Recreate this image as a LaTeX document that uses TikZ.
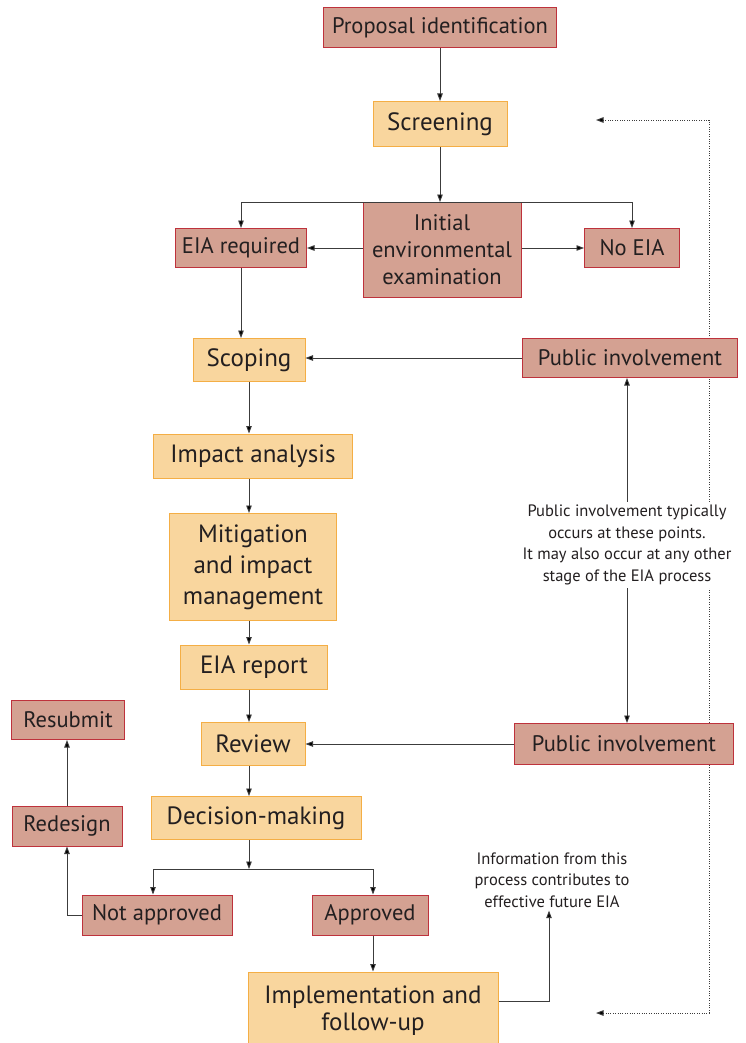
\documentclass[tikz,border=0pt]{standalone}
\usepackage{fontspec}
\setmainfont{PT Sans}
\usetikzlibrary{arrows.meta}
\definecolor{redfill}{RGB}{212,161,146}
\definecolor{redline}{RGB}{190,50,60}
\definecolor{orfill}{RGB}{249,214,158}
\definecolor{orline}{RGB}{244,174,69}
\definecolor{conn}{RGB}{60,60,60}
\definecolor{txt}{RGB}{35,31,32}
\begin{document}
\begin{tikzpicture}[x=1pt,y=-1pt,
  base/.style={line width=1pt,inner sep=0pt,align=center,text=txt},
  redbox/.style={base,draw=redline,fill=redfill,font=\fontsize{22.5}{27}\selectfont},
  orbox/.style={base,draw=orline,fill=orfill,font=\fontsize{25}{27}\selectfont},
  arr/.style={draw=conn,line width=0.9pt,-{Triangle[length=7.5pt,width=5.5pt,fill=black]}},
  note/.style={font=\fontsize{16.5}{21.5}\selectfont,align=center,text=txt,fill=white,inner sep=3pt},
  dots/.style={draw=conn,line width=0.9pt,dash pattern=on 1pt off 1.4pt,
    {Triangle[length=7.5pt,width=5.5pt,fill=black]}-{Triangle[length=7.5pt,width=5.5pt,fill=black]}}]
\useasboundingbox (0,0) rectangle (746,1043);
% dotted feedback loop (behind the boxes)
\coordinate (dbot) at (596,1013);
\coordinate (dtop) at (596,120);
\draw[dots] (dbot) -- (709,1013) -- (709,120) -- (dtop);
% nodes
\node[redbox,minimum width=233pt,minimum height=40pt] (prop) at (440,28) {Proposal identification};
\node[orbox,minimum width=134pt,minimum height=45pt] (screen) at (440,124) {Screening};
\node[redbox,minimum width=158pt,minimum height=95pt] (iee) at (442,250) {Initial\\environmental\\examination};
\node[redbox,minimum width=131pt,minimum height=39pt] (eiareq) at (241,248) {EIA required};
\node[redbox,minimum width=95pt,minimum height=39pt] (noeia) at (632,248) {No EIA};
\node[orbox,minimum width=112pt,minimum height=43pt] (scoping) at (249,360) {Scoping};
\node[redbox,minimum width=215pt,minimum height=39pt] (pi1) at (630,358) {Public involvement};
\node[orbox,minimum width=199pt,minimum height=44pt] (impact) at (253,456) {Impact analysis};
\node[orbox,minimum width=167pt,minimum height=107pt,font=\fontsize{25}{31}\selectfont] (mitig) at (253,567) {Mitigation\\and impact\\management};
\node[orbox,minimum width=147pt,minimum height=44pt] (report) at (254,667) {EIA report};
\node[orbox,minimum width=104pt,minimum height=43pt] (review) at (253,744) {Review};
\node[redbox,minimum width=219pt,minimum height=41pt] (pi2) at (624,744) {Public involvement};
\node[redbox,minimum width=113pt,minimum height=39pt] (resub) at (68,720) {Resubmit};
\node[redbox,minimum width=110pt,minimum height=40pt] (redes) at (67,826) {Redesign};
\node[orbox,minimum width=210pt,minimum height=43pt] (decis) at (256,818) {Decision-making};
\node[redbox,minimum width=150pt,minimum height=40pt] (notapp) at (157,915) {Not approved};
\node[redbox,minimum width=116pt,minimum height=40pt] (appr) at (370,915) {Approved};
\node[orbox,minimum width=250pt,minimum height=78pt] (impl) at (373,1011) {Implementation and\\follow-up};
\node[note] (pinote) at (627,545) {Public involvement typically\\occurs at these points.\\It may also occur at any other\\stage of the EIA process};
\node[note] (info) at (552,880) {Information from this\\process contributes to\\effective future EIA};
% connectors
\draw[arr] (prop.south) -- (screen.north);
\draw[arr] (screen.south) -- (screen.south |- iee.north);
\draw[arr] (iee.north) -| (eiareq.north);
\draw[arr] (iee.north) -| (noeia.north);
\draw[arr] (iee.west |- eiareq.east) -- (eiareq.east);
\draw[arr] (iee.east |- noeia.west) -- (noeia.west);
\draw[arr] (eiareq.south) -- (eiareq.south |- scoping.north);
\draw[arr] (pi1.west) -- (pi1.west -| scoping.east);
\draw[arr] ([xshift=-4pt]impact.north |- scoping.south) -- ([xshift=-4pt]impact.north);
\draw[arr] ([xshift=-4pt]impact.south) -- ([xshift=-4pt]impact.south |- mitig.north);
\draw[arr] ([xshift=-4pt]mitig.south) -- ([xshift=-4pt]mitig.south |- report.north);
\draw[arr] ([xshift=-4pt]mitig.south |- report.south) -- ([xshift=-4pt]mitig.south |- review.north);
\draw[arr] ([xshift=-4pt]mitig.south |- review.south) -- ([xshift=-4pt]mitig.south |- decis.north);
\draw[arr] (pi2.west) -- (pi2.west -| review.east);
\draw[arr] (pinote.north) -- (pinote.north |- pi1.south);
\draw[arr] (pinote.south) -- (pinote.south |- pi2.north);
\coordinate (br) at (249,869);
\draw[arr] (br |- decis.south) -- (br);
\draw[arr] (br) -| ([xshift=-4pt]notapp.north);
\draw[arr] (br) -| ([xshift=3pt]appr.north);
\draw[arr] (notapp.west) -| (redes.south);
\draw[arr] (redes.north) -- (redes.north |- resub.south);
\draw[arr] ([xshift=3pt]appr.south) -- ([xshift=3pt]appr.south |- impl.north);
\draw[arr] ([yshift=10pt]impl.east) -| ([xshift=-3pt]info.south);
\end{tikzpicture}
\end{document}
